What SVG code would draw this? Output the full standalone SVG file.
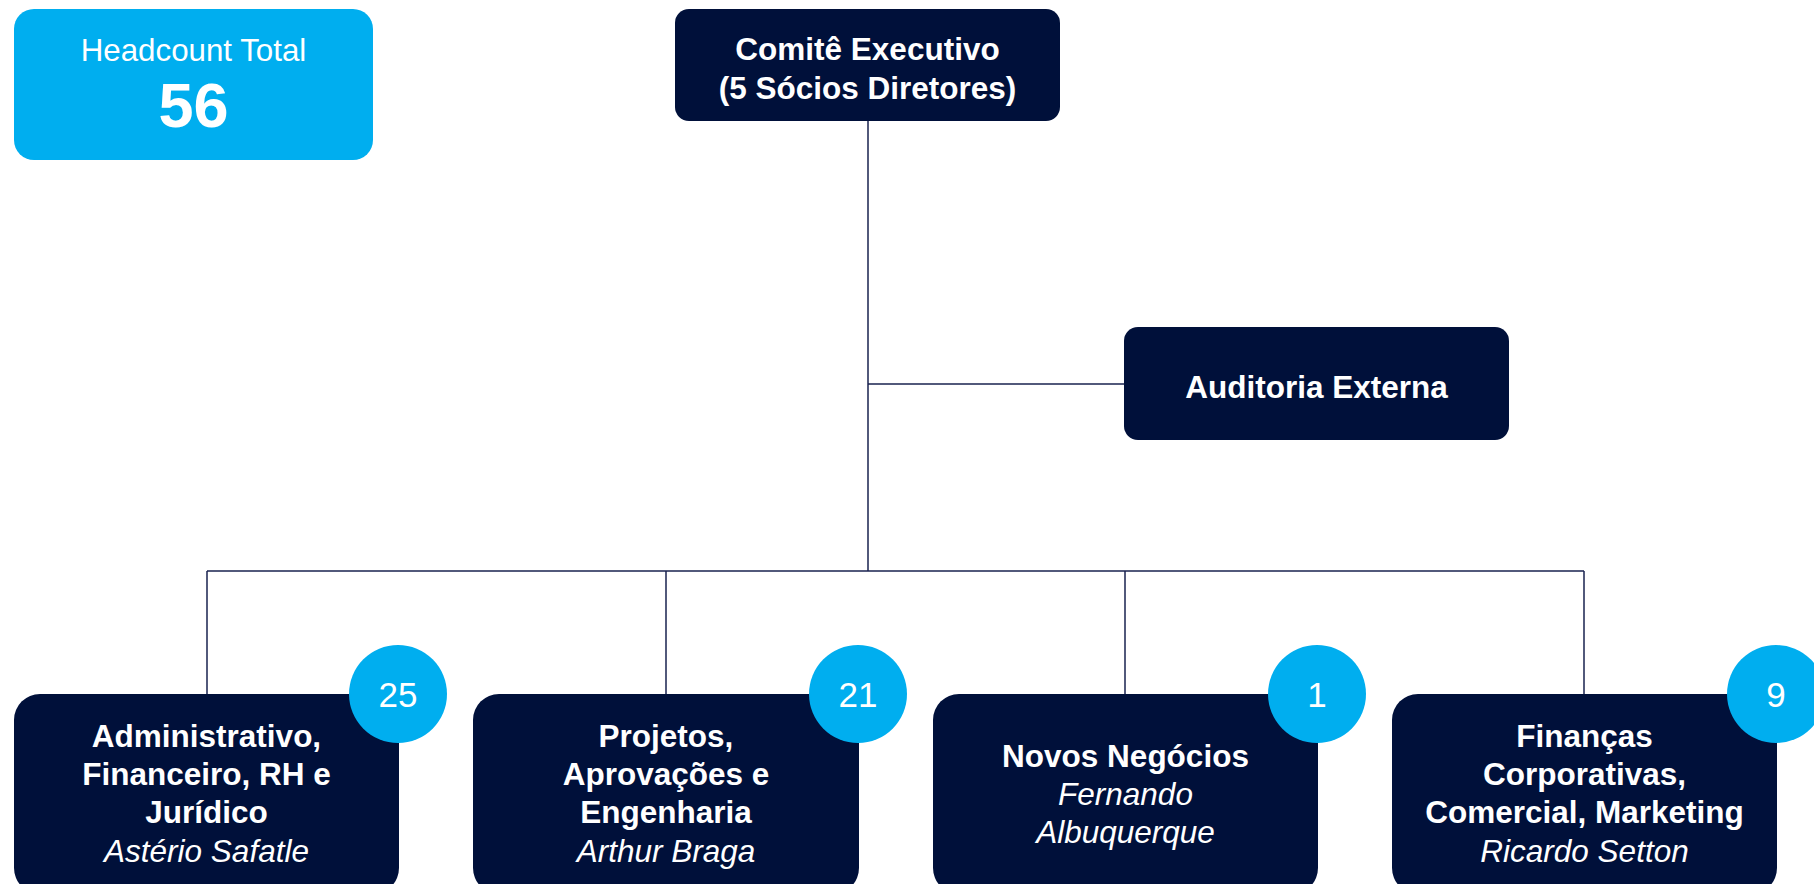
<svg xmlns="http://www.w3.org/2000/svg" width="1814" height="884" viewBox="0 0 1814 884">
<style>
.node{fill:#00103A;}
.cyan{fill:#00AEEF;}
.b{font-family:"Liberation Sans",Arial,sans-serif;font-weight:bold;font-size:31.5px;fill:#fff;text-anchor:middle;}
.i{font-family:"Liberation Sans",Arial,sans-serif;font-style:italic;font-size:31.5px;fill:#fff;text-anchor:middle;}
.n{font-family:"Liberation Sans",Arial,sans-serif;font-size:35px;fill:#fff;text-anchor:middle;}
.conn{stroke:#1A2350;stroke-width:1.5;fill:none;}
</style>
<rect width="1814" height="884" fill="#fff"/>
<g id="connectors">
<path class="conn" d="M868 121 V571 M868 384 H1124 M207 571 H1584 M207 571 V694 M666 571 V694 M1125 571 V694 M1584 571 V694"/>
</g>
<g id="headcount">
<rect class="cyan" x="14" y="9" width="359" height="151" rx="20"/>
<text x="193.5" y="61" font-family="'Liberation Sans',Arial,sans-serif" font-size="31.3" fill="#fff" text-anchor="middle">Headcount Total</text>
<text x="193.5" y="127" font-family="'Liberation Sans',Arial,sans-serif" font-size="63" font-weight="bold" fill="#fff" text-anchor="middle">56</text>
</g>
<g id="comite">
<rect class="node" x="675" y="9" width="385" height="112" rx="14"/>
<text class="b" x="867.5" y="60">Comitê Executivo</text>
<text class="b" x="867.5" y="99">(5 Sócios Diretores)</text>
</g>
<g id="auditoria">
<rect class="node" x="1124" y="327" width="385" height="113" rx="14"/>
<text class="b" x="1316.5" y="398">Auditoria Externa</text>
</g>
<g id="administrativo">
<rect class="node" x="14" y="694" width="385" height="200" rx="26"/>
<text class="b" x="206.5" y="747">Administrativo,</text>
<text class="b" x="206.5" y="785">Financeiro, RH e</text>
<text class="b" x="206.5" y="823">Jurídico</text>
<text class="i" x="206.5" y="862">Astério Safatle</text>
<circle class="cyan" cx="398" cy="694" r="49"/>
<text class="n" x="398" y="707">25</text>
</g>
<g id="projetos">
<rect class="node" x="473" y="694" width="386" height="200" rx="26"/>
<text class="b" x="666" y="747">Projetos,</text>
<text class="b" x="666" y="785">Aprovações e</text>
<text class="b" x="666" y="823">Engenharia</text>
<text class="i" x="666" y="862">Arthur Braga</text>
<circle class="cyan" cx="858" cy="694" r="49"/>
<text class="n" x="858" y="707">21</text>
</g>
<g id="novos">
<rect class="node" x="933" y="694" width="385" height="200" rx="26"/>
<text class="b" x="1125.5" y="767">Novos Negócios</text>
<text class="i" x="1125.5" y="805">Fernando</text>
<text class="i" x="1125.5" y="843">Albuquerque</text>
<circle class="cyan" cx="1317" cy="694" r="49"/>
<text class="n" x="1317" y="707">1</text>
</g>
<g id="financas">
<rect class="node" x="1392" y="694" width="385" height="200" rx="26"/>
<text class="b" x="1584.5" y="747">Finanças</text>
<text class="b" x="1584.5" y="785">Corporativas,</text>
<text class="b" x="1584.5" y="823">Comercial, Marketing</text>
<text class="i" x="1584.5" y="862">Ricardo Setton</text>
<circle class="cyan" cx="1776" cy="694" r="49"/>
<text class="n" x="1776" y="707">9</text>
</g>
</svg>
